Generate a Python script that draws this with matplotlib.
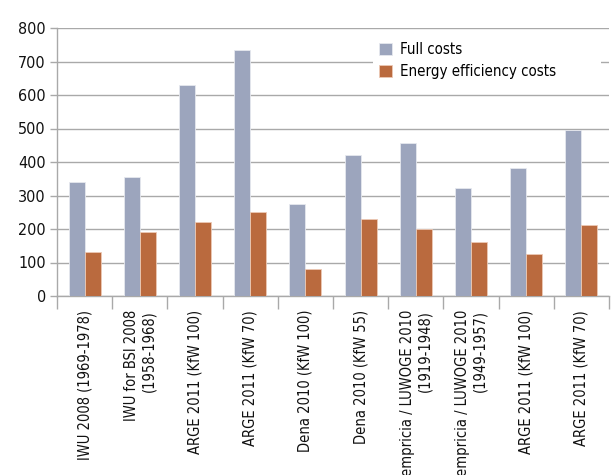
import matplotlib
matplotlib.use("Agg")
import matplotlib.pyplot as plt
import numpy as np
from matplotlib.ticker import FixedLocator

plt.rcParams['font.family'] = ['DejaVu Sans']
plt.rcParams['font.stretch'] = 'condensed'

categories = [
    "IWU 2008 (1969-1978)",
    "IWU for BSI 2008\n(1958-1968)",
    "ARGE 2011 (KfW 100)",
    "ARGE 2011 (KfW 70)",
    "Dena 2010 (KfW 100)",
    "Dena 2010 (KfW 55)",
    "empricia / LUWOGE 2010\n(1919-1948)",
    "empricia / LUWOGE 2010\n(1949-1957)",
    "ARGE 2011 (KfW 100)",
    "ARGE 2011 (KfW 70)",
]
full_costs = [340, 355, 630, 735, 275, 420, 457, 322, 383, 495]
efficiency_costs = [130, 190, 220, 250, 80, 230, 200, 162, 125, 212]
y_ticks = [0, 100, 200, 300, 400, 500, 600, 700, 800]

blue = "#9ca5bd"
orange = "#ba6a3e"
grid_col = "#a9a9a9"

fig = plt.figure(figsize=(6.13, 4.75), dpi=100)
ax = fig.add_axes([57 / 613, 1 - 296 / 475, (609 - 57) / 613, (296 - 28) / 475])

x = np.arange(len(categories))
w = 0.29
ax.bar(x - w / 2, full_costs, width=w, color=blue, edgecolor="#e6e8ee", linewidth=0.6,
       label="Full costs", zorder=3)
ax.bar(x + w / 2, efficiency_costs, width=w, color=orange, edgecolor="#ecc9b5", linewidth=0.6,
       label="Energy efficiency costs", zorder=3)

ax.set_xlim(-0.5, len(categories) - 0.5)
ax.set_ylim(0, 800)
ax.set_yticks(y_ticks)
ax.yaxis.grid(True, color=grid_col, linewidth=1.0, zorder=0)

for side in ("top", "right"):
    ax.spines[side].set_visible(False)
for side in ("left", "bottom"):
    ax.spines[side].set_color(grid_col)
    ax.spines[side].set_linewidth(1.0)

ax.tick_params(axis="y", length=5, width=1, color=grid_col, labelsize=11.5, pad=3,
               labelcolor="#111111")

ax.set_xticks(x)
ax.set_xticklabels(categories, rotation=90, ha="center", va="top",
                   multialignment="right", fontsize=10.5, color="#111111")
ax.tick_params(axis="x", which="major", length=0, pad=10)
ax.xaxis.set_minor_locator(FixedLocator(np.arange(-0.5, len(categories), 1.0)))
ax.tick_params(axis="x", which="minor", length=9, width=1, color=grid_col)

leg = ax.legend(loc="upper left",
                bbox_to_anchor=(373 / 613, 1 - 36 / 475, (601 - 373) / 613, 0),
                bbox_transform=fig.transFigure, mode="expand", frameon=True,
                fancybox=False, edgecolor="white", framealpha=1.0, fontsize=10.8,
                handlelength=0.85, handleheight=0.85, handletextpad=0.55,
                labelspacing=0.45, borderpad=0.4, borderaxespad=0)
leg.get_frame().set_linewidth(0)
leg.set_zorder(5)

fig.savefig("out.png", dpi=100)
